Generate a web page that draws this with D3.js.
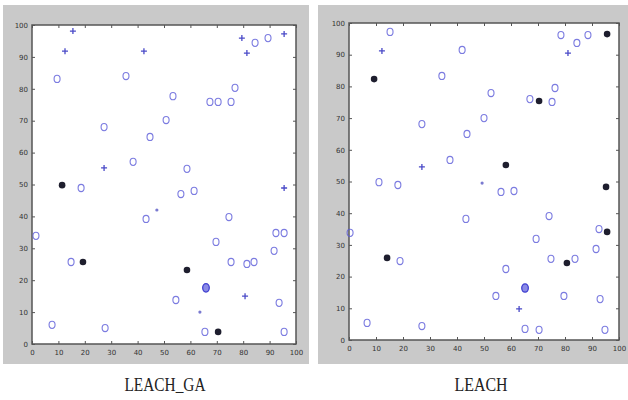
<!DOCTYPE html>
<html>
<head>
<meta charset="utf-8">
<script src="https://cdn.jsdelivr.net/npm/d3@7"></script>
<style>
  body { margin: 0; background: #fff; }
  svg { display: block; }
  .tick text { font-family: "DejaVu Sans", sans-serif; font-size: 7px; fill: #333; }
  .tick line { stroke: #555; }
  .domain { display: none; }
</style>
</head>
<body>
<div id="chart"></div>
<script>
// LEACH_GA node positions
const gaCircles = [[1.5,33.9],[7.6,6.0],[9.5,83.1],[18.6,48.9],[14.8,25.7],[27.7,5.0],[27.3,68.0],[35.6,84.0],
  [38.3,57.1],[43.2,39.2],[44.7,64.9],[50.8,70.2],[53.4,77.7],[54.5,13.8],[56.4,47.0],[58.7,54.9],[61.4,48.0],
  [65.5,3.8],[69.7,32.0],[67.4,75.9],[70.5,75.9],[74.6,39.8],[75.4,75.9],[76.9,80.3],[75.4,25.7],[81.4,25.1],
  [84.1,25.7],[84.5,94.4],[89.4,95.9],[91.7,29.2],[92.4,34.8],[95.5,34.8],[93.6,12.9],[95.5,3.8]];
const gaHeads = [[11.4,49.8],[19.3,25.7],[58.7,23.2],[70.5,3.8]];
const gaPlus = [[12.5,91.8],[15.5,98.1],[27.3,55.2],[42.4,91.8],[80.7,15.0],[79.5,95.9],[81.4,91.2],[95.5,97.2],[95.5,48.9]];
const gaDots = [[47.3,42.0],[63.6,10.0]];
const gaBlue = [[65.9,17.6]];

// LEACH node positions
const lCircles = [[15.2,97.2],[41.9,91.5],[34.4,83.3],[27.0,68.1],[43.7,65.0],[37.4,56.8],[78.5,96.2],[84.4,93.7],
  [88.5,96.2],[52.6,77.9],[50.0,70.0],[67.0,76.0],[75.2,75.1],[76.3,79.5],[11.1,49.8],[18.1,48.9],[0.4,33.8],
  [18.9,24.9],[6.7,5.4],[27.0,4.4],[43.3,38.2],[56.3,46.7],[61.1,47.0],[74.1,39.1],[92.6,35.0],[69.3,31.9],
  [91.5,28.7],[74.8,25.6],[83.7,25.6],[58.1,22.4],[54.4,13.9],[79.6,13.9],[93.0,12.9],[65.2,3.5],[70.4,3.2],[94.8,3.2]];
const lHeads = [[9.3,82.3],[95.6,96.5],[70.4,75.4],[58.1,55.2],[14.1,25.9],[95.2,48.3],[95.6,34.1],[80.7,24.3]];
const lPlus = [[12.2,91.2],[27.0,54.6],[81.1,90.5],[63.0,9.8]];
const lDots = [[49.3,49.5]];
const lBlue = [[65.2,16.4]];

const ticks = [0, 10, 20, 30, 40, 50, 60, 70, 80, 90, 100];
const titles = ["LEACH_GA", "LEACH"];

const svg = d3.select("#chart").append("svg")
  .attr("width", 628)
  .attr("height", 400);

const panels = [
  { bg: [3, 5, 306, 359], plot: [32, 25, 296, 344], title: titles[0], tx: 165, tw: 81,
    circles: gaCircles, heads: gaHeads, plus: gaPlus, dots: gaDots, blue: gaBlue },
  { bg: [318, 5, 310, 359], plot: [349, 23, 619, 340], title: titles[1], tx: 481, tw: 53,
    circles: lCircles, heads: lHeads, plus: lPlus, dots: lDots, blue: lBlue }
];

const blue = "#5a5ad8";

panels.forEach(p => {
  const g = svg.append("g");
  g.append("rect")
    .attr("x", p.bg[0]).attr("y", p.bg[1])
    .attr("width", p.bg[2]).attr("height", p.bg[3])
    .attr("fill", "#c9c9c9");

  const [x0, y0, x1, y1] = p.plot;
  const x = d3.scaleLinear().domain([0, 100]).range([x0, x1]);
  const y = d3.scaleLinear().domain([0, 100]).range([y1, y0]);

  g.append("rect")
    .attr("x", x0).attr("y", y0)
    .attr("width", x1 - x0).attr("height", y1 - y0)
    .attr("fill", "#fff");

  g.append("g").attr("transform", `translate(0,${y1})`)
    .call(d3.axisBottom(x).tickValues(ticks).tickSizeInner(-3).tickSizeOuter(0).tickPadding(6));
  g.append("g").attr("transform", `translate(${x0},0)`)
    .call(d3.axisLeft(y).tickValues(ticks).tickSizeInner(-3).tickSizeOuter(0).tickPadding(4));
  g.append("g").attr("transform", `translate(0,${y0})`)
    .call(d3.axisTop(x).tickValues(ticks).tickSizeInner(-3).tickSizeOuter(0).tickFormat(""));
  g.append("g").attr("transform", `translate(${x1},0)`)
    .call(d3.axisRight(y).tickValues(ticks).tickSizeInner(-3).tickSizeOuter(0).tickFormat(""));

  g.append("rect")
    .attr("x", x0).attr("y", y0)
    .attr("width", x1 - x0).attr("height", y1 - y0)
    .attr("fill", "none")
    .attr("stroke", "#555")
    .attr("stroke-width", 1.5);

  // normal nodes
  g.append("g").selectAll("ellipse")
    .data(p.circles)
    .join("ellipse")
    .attr("cx", d => x(d[0]))
    .attr("cy", d => y(d[1]))
    .attr("rx", 3)
    .attr("ry", 3.6)
    .attr("fill", "none")
    .attr("stroke", blue)
    .attr("stroke-opacity", 0.8)
    .attr("stroke-width", 1.1);

  g.append("g").selectAll("ellipse")
    .data(p.blue)
    .join("ellipse")
    .attr("cx", d => x(d[0]))
    .attr("cy", d => y(d[1]))
    .attr("rx", 3.3)
    .attr("ry", 4.2)
    .attr("fill", "#8a8ae6")
    .attr("stroke", "#4040d0")
    .attr("stroke-width", 1.3);

  g.append("g").selectAll("circle")
    .data(p.dots)
    .join("circle")
    .attr("cx", d => x(d[0]))
    .attr("cy", d => y(d[1]))
    .attr("r", 1.6)
    .attr("fill", "#7a7ad0");

  g.append("g").selectAll("path")
    .data(p.plus)
    .join("path")
    .attr("d", d => `M${x(d[0]) - 3},${y(d[1])}h6M${x(d[0])},${y(d[1]) - 3}v6`)
    .attr("stroke", "#4a4ac8")
    .attr("stroke-width", 1.3);

  // cluster heads
  g.append("g").selectAll("circle")
    .data(p.heads)
    .join("circle")
    .attr("cx", d => x(d[0]))
    .attr("cy", d => y(d[1]))
    .attr("r", 3.3)
    .attr("fill", "#1e1e2e");

  svg.append("text")
    .attr("x", p.tx)
    .attr("y", 391)
    .attr("text-anchor", "middle")
    .attr("textLength", p.tw)
    .attr("lengthAdjust", "spacingAndGlyphs")
    .style("font-family", "'Liberation Serif', serif")
    .style("font-size", "19px")
    .style("fill", "#222")
    .text(p.title);
});
</script>
</body>
</html>
